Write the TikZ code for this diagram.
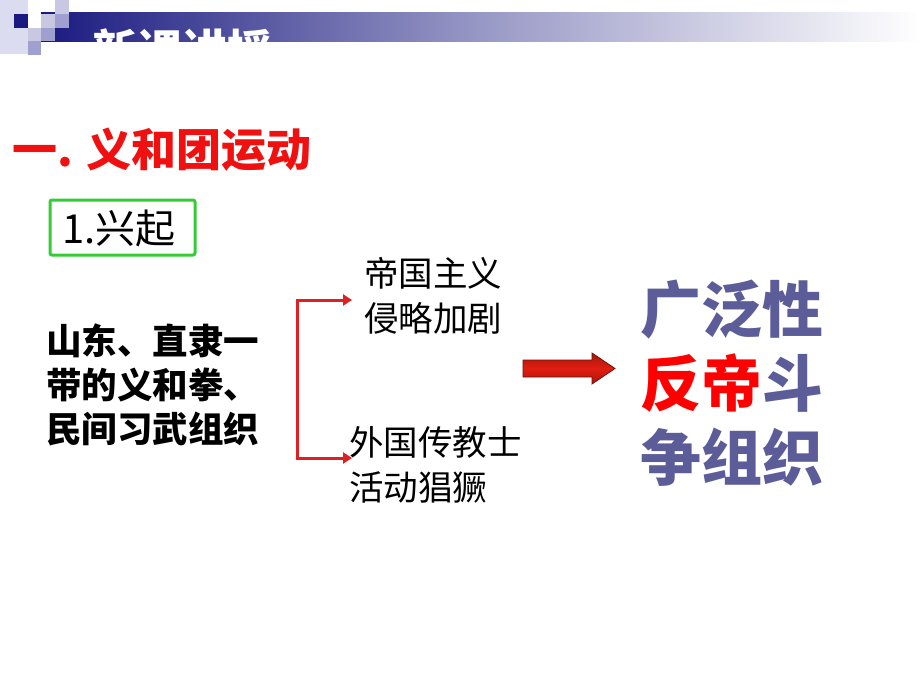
\documentclass[tikz,border=0pt]{standalone}
\usepackage{fontspec}
\newfontfamily\cjk{Noto Sans CJK SC}
\usetikzlibrary{arrows.meta}
\definecolor{navy}{HTML}{1A1A80}
\definecolor{paleL}{HTML}{DCDCF0}
\definecolor{midL}{HTML}{A0A0D0}
\definecolor{lightL}{HTML}{C8C8E2}
\definecolor{titlered}{HTML}{F01010}
\definecolor{boxgreen}{HTML}{33CC33}
\definecolor{brred}{HTML}{DD2020}
\definecolor{slate}{HTML}{5C5C98}
\definecolor{arrred}{HTML}{E01E10}
\definecolor{arrdark}{HTML}{701010}
\tikzset{
  cell/.style={inner sep=0pt, minimum size=13.7pt, anchor=north west, draw=none},
  plaintxt/.style={font=\cjk\fontsize{34.5}{45}\selectfont, align=left, inner sep=0pt, anchor=west},
  boldtxt/.style={font=\cjk\bfseries\fontsize{35.5}{44}\selectfont, align=left, inner sep=0pt, anchor=west},
  bigtxt/.style={font=\cjk\bfseries\fontsize{61}{74}\selectfont, text=slate, inner sep=0pt, anchor=west},
  bracket/.style={draw=brred, line width=3pt, -{Triangle[length=9pt,width=11pt]}},
}
\begin{document}
\begin{tikzpicture}[x=1pt,y=-1pt]
\useasboundingbox (0,0) rectangle (920,690);
\fill[white] (0,0) rectangle (920,690);
% header band
\shade[left color=navy, right color=white, middle color=navy!45!white] (41,13) rectangle (920,42);
\begin{scope}
\clip (41,13) rectangle (920,42);
\node[font=\cjk\bfseries\fontsize{45}{45}\selectfont, text=white, anchor=west, inner sep=0pt] (hdr) at (92,50) {新课讲授};
\end{scope}
% squares
\node[cell, fill=paleL, minimum width=27.4pt, minimum height=54pt] (sq0) at (0,0) {};
\node[cell, fill=navy] (sq1) at (13.7,13.7) {};
\node[cell, fill=lightL] (sq2) at (27.4,27.4) {};
\node[cell, fill=midL] (sq3) at (27.4,41.1) {};
\node[cell, fill=lightL] (sq4) at (41.1,13.7) {};
\node[cell, fill=midL] (sq5) at (41.1,27.4) {};
\node[cell, fill=lightL] (sq6) at (54.8,0) {};
\node[cell, fill=midL] (sq7) at (54.8,13.7) {};
% title
\node[font=\cjk\bfseries\fontsize{45}{45}\selectfont, text=titlered, anchor=west, inner sep=0pt] (title) at (12,150) {一. 义和团运动};
% green box
\draw[boxgreen, line width=3pt, rounded corners=2pt] (50,200) rectangle (195,255);
\node[font=\cjk\fontsize{40}{40}\selectfont, anchor=west, inner sep=0pt] (rise) at (62,228) {1.兴起};
% left block
\node[boldtxt] (left) at (46,385) {山东、直隶一\\带的义和拳、\\民间习武组织};
% right texts
\node[plaintxt] (imp) at (364,296) {帝国主义\\侵略加剧};
\node[plaintxt] (mis) at (349,465) {外国传教士\\活动猖獗};
% bracket
\coordinate (bt) at (297,300);
\coordinate (bb) at (297,458);
\draw[bracket] (bb) -- (bt) -- (352,300);
\draw[bracket] (bt) -- (bb) -- (352,458);
% block arrow
\shade[draw=arrdark, line width=0.8pt, top color=arrred!75!black, bottom color=arrred!75!black, middle color=arrred]
  (523,360) -- (592,360) -- (592,353) -- (615,368.5) -- (592,384) -- (592,377) -- (523,377) -- cycle;
% result
\node[bigtxt] (r1) at (640,310) {广泛性};
\node[bigtxt] (r2) at (640,383) {\textcolor{red}{反帝}斗};
\node[bigtxt] (r3) at (640,457) {争组织};
\end{tikzpicture}
\end{document}
